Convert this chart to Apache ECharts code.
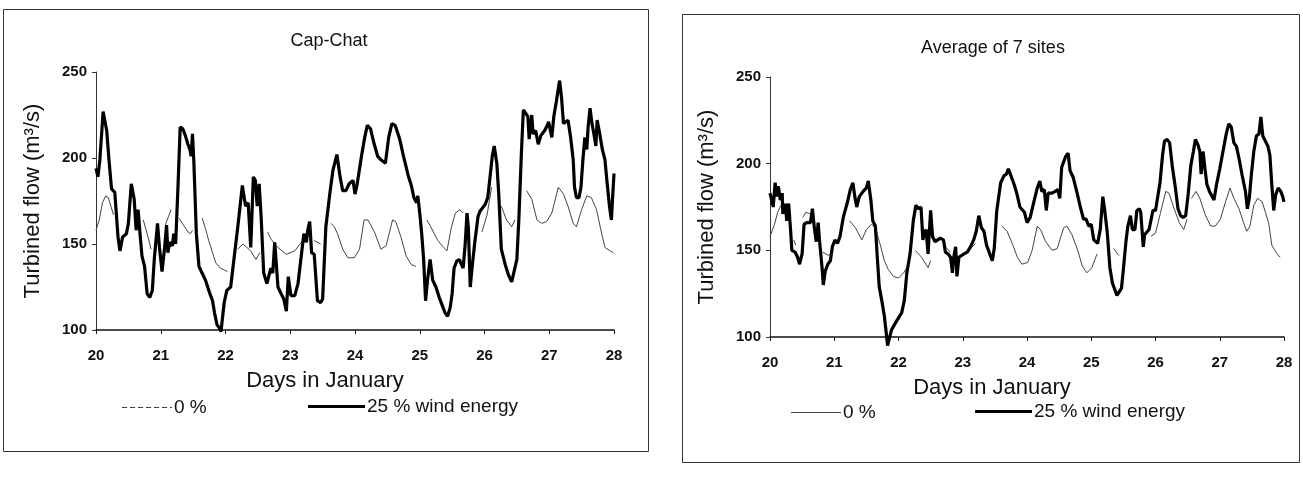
<!DOCTYPE html>
<html><head><meta charset="utf-8">
<script src="https://cdn.jsdelivr.net/npm/echarts@6/dist/echarts.min.js"></script>
<style>html,body{margin:0;padding:0;background:#fff}#c{width:1303px;height:479px}</style>
</head><body><div id="c"></div><script>
// ---------- data ----------
const dayTicks = [20, 21, 22, 23, 24, 25, 26, 27, 28];
const flowTicks = [100, 150, 200, 250];

// Cap-Chat, 25 % wind energy
const capWindDays = [20.00,20.03,20.06,20.11,20.165,20.20,20.24,20.29,20.31,20.34,20.37,20.41,20.44,20.47,20.50,20.545,20.59,20.62,20.65,20.68,20.71,20.75,20.79,20.83,20.87,20.90,20.95,20.98,21.02,21.06,21.09,21.11,21.14,21.18,21.20,21.23,21.27,21.30,21.34,21.38,21.42,21.45,21.47,21.49,21.51,21.55,21.59,21.64,21.69,21.76,21.80,21.83,21.87,21.91,21.93,21.98,22.02,22.08,22.13,22.19,22.26,22.31,22.35,22.39,22.43,22.46,22.49,22.52,22.55,22.59,22.64,22.70,22.73,22.76,22.78,22.81,22.86,22.90,22.94,22.97,23.01,23.07,23.12,23.17,23.21,23.25,23.27,23.30,23.33,23.37,23.42,23.47,23.50,23.55,23.61,23.66,23.72,23.77,23.81,23.86,23.91,23.97,24.00,24.03,24.10,24.15,24.19,24.24,24.29,24.35,24.40,24.47,24.52,24.57,24.62,24.69,24.75,24.82,24.87,24.91,24.95,24.97,25.00,25.03,25.06,25.09,25.12,25.16,25.20,25.25,25.30,25.35,25.39,25.43,25.47,25.50,25.53,25.57,25.61,25.64,25.67,25.70,25.73,25.75,25.78,25.81,25.85,25.90,25.93,25.97,26.01,26.05,26.08,26.12,26.15,26.19,26.22,26.26,26.32,26.37,26.42,26.45,26.50,26.53,26.57,26.60,26.63,26.67,26.69,26.73,26.75,26.79,26.83,26.87,26.93,26.97,26.99,27.04,27.07,27.11,27.16,27.19,27.22,27.25,27.29,27.33,27.37,27.39,27.42,27.46,27.49,27.52,27.55,27.58,27.60,27.63,27.66,27.69,27.72,27.74,27.78,27.82,27.86,27.89,27.93,27.96,27.98,28.00];
const capWindFlow = [194,189,199,227,216,199,182,180,180,154,146,154,155,156,162,185,176,158,170,156,143,137,121,119,123,141,162,148,134,148,161,145,151,149,156,150,187,218,217,213,208,205,201,214,199,156,137,133,129,121,117,110,103,101,99,116,123,125,141,160,184,172,174,148,189,187,172,185,166,133,127,136,133,151,141,125,121,118,111,131,120,120,127,143,156,151,158,163,145,144,117,116,118,160,179,193,202,189,181,181,185,187,179,184,201,212,219,217,209,201,199,197,212,220,219,211,201,190,184,177,174,178,168,156,141,117,129,141,129,125,119,114,110,108,113,121,136,140,141,142,136,149,168,160,125,137,151,166,169,171,173,177,187,201,207,197,179,147,138,132,128,127,141,164,203,228,227,224,211,225,214,216,208,213,216,219,221,212,224,233,245,235,220,221,222,212,199,183,177,177,183,199,212,205,218,229,220,214,207,222,214,205,199,187,172,164,178,191];

// Cap-Chat, 0 % (null = gap in the drawn line)
const capBaseDays = [20.00,20.05,20.10,20.15,20.19,20.23,20.27,20.5,20.73,20.79,20.85,21.0,21.07,21.12,21.16,21.2,21.28,21.35,21.42,21.46,21.49,21.55,21.64,21.69,21.74,21.80,21.85,21.92,22.03,22.1,22.19,22.27,22.33,22.39,22.47,22.53,22.6,22.65,22.70,22.76,22.81,22.94,23.07,23.17,23.3,23.37,23.47,23.55,23.63,23.68,23.73,23.81,23.89,23.99,24.07,24.14,24.20,24.30,24.40,24.48,24.58,24.63,24.71,24.79,24.87,24.94,25.0,25.11,25.17,25.28,25.37,25.42,25.49,25.55,25.62,25.67,25.8,25.96,26.04,26.11,26.2,26.26,26.34,26.42,26.47,26.55,26.65,26.73,26.81,26.88,26.96,27.04,27.14,27.22,27.29,27.37,27.42,27.50,27.58,27.65,27.73,27.81,27.86,27.94,27.99];
const capBaseFlow = [158,164,174,178,177,172,167,null,164,156,147,null,161,166,170,null,165,161,157,156,158,null,165,159,152,145,139,136,134,null,147,150,148,146,141,145,null,157,153,150,148,144,146,151,null,152,150,null,162,160,156,147,142,142,147,164,164,157,147,149,164,163,154,143,138,137,null,164,160,152,148,146,160,168,170,168,null,157,167,183,null,172,164,160,164,null,181,176,164,162,163,168,183,179,172,162,160,170,178,177,170,156,148,146,145];

// Average of 7 sites, 25 % wind energy
const avgWindDays = [20.00,20.02,20.05,20.08,20.11,20.13,20.16,20.19,20.20,20.24,20.26,20.29,20.32,20.34,20.39,20.43,20.46,20.50,20.53,20.57,20.63,20.66,20.69,20.72,20.75,20.77,20.81,20.83,20.86,20.90,20.94,20.97,21.01,21.05,21.09,21.14,21.20,21.25,21.29,21.32,21.35,21.39,21.45,21.50,21.53,21.57,21.60,21.64,21.67,21.70,21.74,21.78,21.81,21.83,21.86,21.89,21.95,22.00,22.05,22.09,22.13,22.18,22.23,22.27,22.31,22.35,22.38,22.40,22.43,22.46,22.50,22.53,22.57,22.60,22.65,22.70,22.73,22.77,22.81,22.84,22.86,22.89,22.91,22.94,22.98,23.02,23.07,23.12,23.17,23.21,23.25,23.29,23.33,23.37,23.40,23.46,23.49,23.53,23.59,23.64,23.68,23.71,23.75,23.80,23.84,23.89,23.92,23.96,24.00,24.05,24.10,24.16,24.20,24.23,24.27,24.30,24.33,24.39,24.44,24.48,24.51,24.54,24.60,24.64,24.67,24.72,24.78,24.83,24.88,24.92,24.96,25.00,25.04,25.07,25.10,25.14,25.18,25.21,25.25,25.29,25.33,25.36,25.40,25.43,25.47,25.50,25.54,25.57,25.61,25.64,25.68,25.71,25.75,25.77,25.81,25.83,25.86,25.90,25.93,25.96,26.00,26.03,26.07,26.11,26.14,26.18,26.22,26.26,26.31,26.35,26.39,26.43,26.47,26.51,26.55,26.59,26.62,26.66,26.69,26.71,26.74,26.77,26.80,26.84,26.87,26.91,26.95,27.00,27.06,27.10,27.14,27.18,27.22,27.26,27.30,27.35,27.40,27.43,27.46,27.49,27.53,27.57,27.61,27.64,27.67,27.71,27.75,27.78,27.81,27.84,27.87,27.91,27.95,27.98,28.00];
const avgWindFlow = [183,182,175,189,181,187,179,183,171,177,167,177,162,150,149,146,142,148,165,166,166,174,163,155,166,156,140,130,138,142,144,152,156,154,158,169,177,185,189,181,175,181,184,186,190,179,167,164,146,129,121,112,102,95,95,104,108,111,114,121,137,148,167,176,174,175,156,160,162,148,173,158,155,156,157,156,149,148,146,137,146,152,135,146,147,148,149,152,156,161,170,163,161,153,150,144,151,173,189,193,194,197,193,188,183,175,176,172,166,169,177,186,190,184,185,173,183,183,184,185,180,198,204,206,196,192,183,175,168,168,164,165,156,157,154,162,181,173,160,140,131,130,124,123,128,139,155,164,170,162,162,173,174,172,152,159,158,162,163,173,173,174,189,205,213,214,212,199,186,174,170,169,170,183,199,207,214,211,207,194,207,197,188,184,185,179,188,197,209,217,223,221,212,210,203,193,184,174,180,193,207,216,217,227,216,213,210,205,188,173,182,186,184,181,178];

// Average of 7 sites, 0 % (null = gap in the drawn line)
const avgBaseDays = [20.00,20.02,20.07,20.12,20.17,20.3,20.37,20.40,20.45,20.51,20.56,20.62,20.7,20.82,20.91,20.99,21.1,21.24,21.33,21.43,21.50,21.58,21.64,21.71,21.78,21.84,21.92,22.00,22.08,22.13,22.2,22.26,22.36,22.46,22.50,22.6,22.73,22.81,23.0,23.12,23.20,23.4,23.61,23.69,23.77,23.85,23.92,24.01,24.08,24.16,24.21,24.29,24.39,24.47,24.57,24.62,24.70,24.79,24.86,24.93,25.01,25.09,25.2,25.35,25.43,25.6,25.93,26.00,26.08,26.16,26.21,26.29,26.37,26.44,26.49,26.52,26.56,26.63,26.69,26.78,26.86,26.93,27.01,27.09,27.16,27.22,27.30,27.37,27.42,27.47,27.53,27.59,27.66,27.71,27.76,27.81,27.89,27.94];
const avgBaseFlow = [158,160,165,172,176,null,156,153,null,169,172,171,null,149,147,150,null,167,163,156,162,165,163,154,144,139,135,134,137,140,null,150,146,140,144,null,152,149,null,151,154,null,164,161,154,146,142,143,150,164,162,155,150,151,163,164,159,150,141,137,140,148,null,151,147,null,158,160,172,184,183,174,166,162,168,null,180,184,180,170,164,164,168,178,186,180,174,166,161,164,176,180,178,172,166,153,148,146];

// ---------- chart ----------
const FONT = '"Liberation Sans", Arial, sans-serif';
const pairs = (d, v) => d.map((x, i) => [x, v[i] === null ? '-' : v[i]]);

function xAxisFor(gi, shiftLeft) {
  return {
    gridIndex: gi, type: 'value', min: dayTicks[0], max: dayTicks[dayTicks.length - 1], interval: 1,
    name: 'Days in January', nameLocation: 'middle', nameGap: 40,
    nameTextStyle: { fontFamily: FONT, fontSize: 22, color: '#111', padding: [0, shiftLeft * 2, 0, 0] },
    axisLine: { onZero: false, lineStyle: { color: '#111', width: 1.5 } },
    axisTick: { show: true, length: 4, lineStyle: { color: '#111' } },
    axisLabel: { margin: 18, fontFamily: FONT, fontSize: 15, fontWeight: 'bold', color: '#111' },
    splitLine: { show: false }
  };
}
function yAxisFor(gi) {
  return {
    gridIndex: gi, type: 'value', min: flowTicks[0], max: flowTicks[flowTicks.length - 1], interval: 50,
    name: 'Turbined flow (m³/s)', nameLocation: 'middle', nameGap: 52, nameRotate: 90,
    nameTextStyle: { fontFamily: FONT, fontSize: 22, color: '#111' },
    axisLine: { show: true, lineStyle: { color: '#333', width: 1 } },
    axisTick: { show: true, length: 4, lineStyle: { color: '#333' } },
    axisLabel: { margin: 9, fontFamily: FONT, fontSize: 15, fontWeight: 'bold', color: '#111' },
    splitLine: { show: false }
  };
}
function baseSeries(gi, d, v) {
  return { name: '0 %', type: 'line', xAxisIndex: gi, yAxisIndex: gi, data: pairs(d, v),
    showSymbol: false, symbol: 'none', connectNulls: false, clip: false, z: 2,
    lineStyle: { color: '#444', width: 1 }, itemStyle: { color: '#444' } };
}
function windSeries(gi, d, v) {
  return { name: '25 % wind energy', type: 'line', xAxisIndex: gi, yAxisIndex: gi, data: pairs(d, v),
    showSymbol: false, symbol: 'none', clip: false, z: 3,
    lineStyle: { color: '#000', width: 3.2 }, itemStyle: { color: '#000' } };
}
const DASH_ICON = 'path://M0 0h5v1h-5zM8 0h5v1h-5zM16 0h5v1h-5zM24 0h5v1h-5zM32 0h5v1h-5zM40 0h5v1h-5zM48 0h2v1h-2z';
function legendItem(name, left, top, icon, w, h) {
  return { data: [{ name: name, icon: icon }], left: left, top: top, padding: 0,
    itemWidth: w, itemHeight: h, selectedMode: false, itemGap: 0,
    textStyle: { fontFamily: FONT, fontSize: 19, color: '#111', padding: [0, 0, 0, -3] } };
}

const chart = echarts.init(document.getElementById('c'), null, { renderer: 'canvas' });
chart.setOption({
  backgroundColor: '#fff',
  animation: false,
  title: [
    { text: 'Cap-Chat', left: 324, top: 27, textAlign: 'center',
      textStyle: { fontFamily: FONT, fontSize: 18, fontWeight: 'normal', color: '#111' } },
    { text: 'Average of 7 sites', left: 988, top: 34, textAlign: 'center',
      textStyle: { fontFamily: FONT, fontSize: 18, fontWeight: 'normal', color: '#111' } }
  ],
  legend: [
    legendItem('0 %', 122, 398, DASH_ICON, 50, 1),
    legendItem('25 % wind energy', 308, 397, 'rect', 57, 3),
    legendItem('0 %', 791, 403, 'rect', 50, 1),
    legendItem('25 % wind energy', 975, 402, 'rect', 57, 3)
  ],
  grid: [
    { left: 96, top: 72, width: 518, height: 258 },
    { left: 770, top: 77, width: 514, height: 260 }
  ],
  xAxis: [xAxisFor(0, 30), xAxisFor(1, 35)],
  yAxis: [yAxisFor(0), yAxisFor(1)],
  series: [
    baseSeries(0, capBaseDays, capBaseFlow),
    windSeries(0, capWindDays, capWindFlow),
    baseSeries(1, avgBaseDays, avgBaseFlow),
    windSeries(1, avgWindDays, avgWindFlow)
  ],
  graphic: [
    { type: 'rect', shape: { x: 3.5, y: 9.5, width: 645, height: 442 }, silent: true,
      style: { fill: 'none', stroke: '#333', lineWidth: 1 } },
    { type: 'rect', shape: { x: 682.5, y: 14.5, width: 617, height: 448 }, silent: true,
      style: { fill: 'none', stroke: '#333', lineWidth: 1 } }
  ]
});
</script></body></html>
